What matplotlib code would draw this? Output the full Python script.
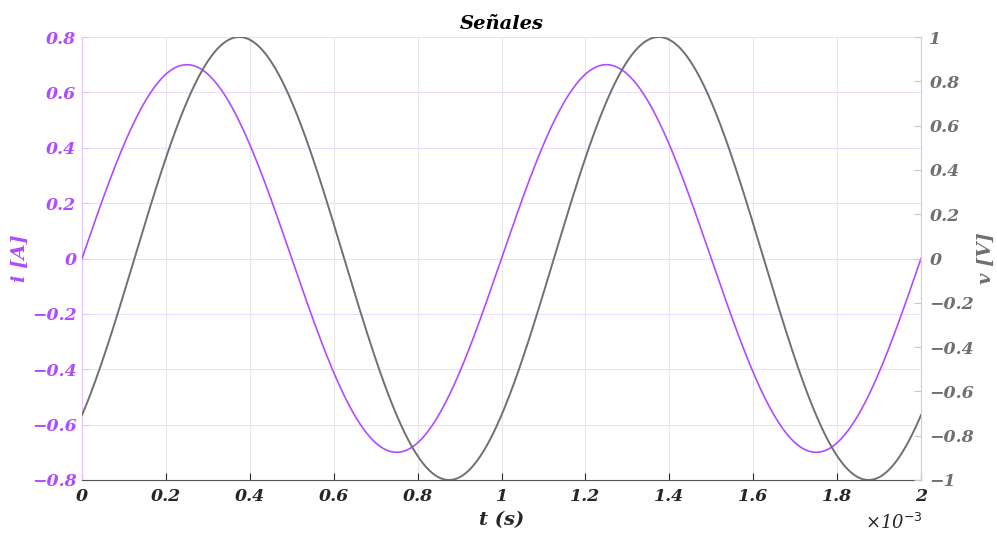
import numpy as np
import matplotlib
matplotlib.use("Agg")
import matplotlib.pyplot as plt
from matplotlib.ticker import FuncFormatter

# Signal parameters
FREQ_HZ = 1000.0
I_AMP = 0.7          # current amplitude [A]
V_AMP = 1.0          # voltage amplitude [V]
V_PHASE_DEG = -45.0  # voltage phase [deg]
T_END = 2e-3         # time span [s]

left_ticks = [-0.8, -0.6, -0.4, -0.2, 0, 0.2, 0.4, 0.6, 0.8]
right_ticks = [-1, -0.8, -0.6, -0.4, -0.2, 0, 0.2, 0.4, 0.6, 0.8, 1]
x_ticks = [0, 0.2e-3, 0.4e-3, 0.6e-3, 0.8e-3, 1.0e-3, 1.2e-3, 1.4e-3, 1.6e-3, 1.8e-3, 2.0e-3]

t = np.linspace(0, T_END, 1001)
i_t = I_AMP * np.sin(2 * np.pi * FREQ_HZ * t)
v_t = V_AMP * np.sin(2 * np.pi * FREQ_HZ * t + np.deg2rad(V_PHASE_DEG))

PURPLE = "#b04cff"
GRAY = "#707070"
DARK = "#262626"
FONT = "DejaVu Serif"

plt.rcParams["font.family"] = FONT
plt.rcParams["axes.unicode_minus"] = True

fig = plt.figure(figsize=(9.97, 5.36), dpi=100)
ax = fig.add_axes([82 / 997, 1 - 480 / 536, (921 - 82) / 997, (480 - 37) / 536])
ax2 = ax.twinx()

ax.plot(t, i_t, color=PURPLE, lw=1.2, zorder=3)
ax2.plot(t, v_t, color=GRAY, lw=1.4, zorder=3)

ax.set_xlim(0, T_END)
ax.set_ylim(-0.8, 0.8)
ax2.set_ylim(-1, 1)

ax.set_xticks(x_ticks)
ax.set_yticks(left_ticks)
ax2.set_yticks(right_ticks)

fmt_num = lambda v: ("%g" % round(v, 6)).replace("-", "\u2212")
ax.xaxis.set_major_formatter(FuncFormatter(lambda v, p: fmt_num(v * 1e3)))
ax.yaxis.set_major_formatter(FuncFormatter(lambda v, p: fmt_num(v)))
ax2.yaxis.set_major_formatter(FuncFormatter(lambda v, p: fmt_num(v)))

tick_font = dict(family=FONT, weight="bold", style="italic", size=12.5)
for lab in ax.get_xticklabels():
    lab.set(**tick_font, color=DARK)
for lab in ax.get_yticklabels():
    lab.set(**tick_font, color=PURPLE)
for lab in ax2.get_yticklabels():
    lab.set(**tick_font, color=GRAY)

# grid: horizontal lines follow the left axis, vertical lines follow time
ax.grid(True, axis="y", color="#eedcff", lw=0.8)
ax.grid(True, axis="x", color="#e6e6e6", lw=0.8)
ax.set_axisbelow(True)

ax.tick_params(axis="x", direction="in", length=5, color=DARK, pad=6)
ax.tick_params(axis="y", direction="in", length=5, color="#e2c4ff", pad=4)
ax2.tick_params(axis="y", direction="in", length=5, color="#c8c8c8", pad=6)

ax.spines["top"].set_visible(False)
ax2.spines["top"].set_visible(False)
ax.spines["bottom"].set_color("#555555")
ax2.spines["bottom"].set_visible(False)
ax.spines["left"].set_color("#e2c4ff")
ax2.spines["left"].set_visible(False)
ax2.spines["right"].set_color("#d0d0d0")
ax.spines["right"].set_visible(False)

label_font = dict(family=FONT, weight="bold", style="italic", size=14)
ax.set_xlabel("t (s)", color=DARK, labelpad=4, **label_font)
ax.set_ylabel("i [A]", color=PURPLE, **label_font)
ax2.set_ylabel("v [V]", color=GRAY, rotation=90, **label_font)
ax.yaxis.set_label_coords((29 - 82) / 839, 0.5)
ax2.yaxis.set_label_coords((977 - 82) / 839, 0.5)
ax.set_title("Señales", color="black", pad=6, **label_font)

fig.text(865 / 997, 1 - 523 / 536, "×10$^{-3}$", color=DARK,
         family=FONT, style="italic", size=13, ha="left", va="center")

fig.savefig("out.png", dpi=100)
